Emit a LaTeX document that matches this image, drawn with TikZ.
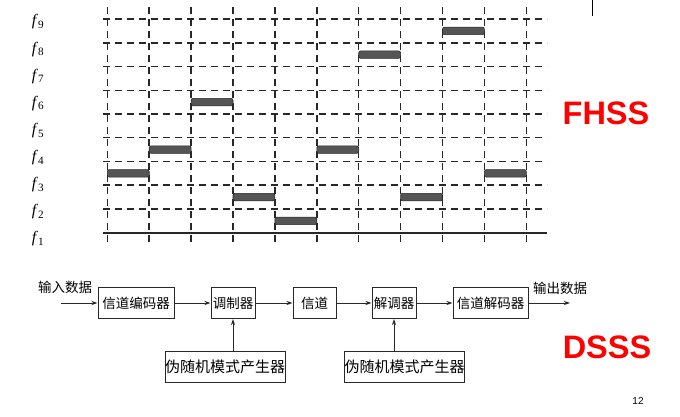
\documentclass[tikz,border=0pt]{standalone}
\usepackage{amsmath}
\usepackage{fontspec}
\newfontfamily\cjk{Noto Sans CJK SC}
\newfontfamily\headfont{Liberation Sans}
\newfontfamily\freqfont{Liberation Serif}
\usetikzlibrary{arrows.meta}

\definecolor{inkgray}{RGB}{40,40,40}
\definecolor{barfill}{RGB}{85,85,85}
\definecolor{titlered}{RGB}{255,0,0}

\begin{document}
\begin{tikzpicture}
        [x=1pt,y=-1pt,>={Stealth[length=6pt,width=4pt]},
        grid/.style={inkgray,line width=1.5pt,dash pattern=on 7pt off 5pt},
        hop/.style={fill=barfill,draw=inkgray,line width=.6pt,rounded corners=2pt},
        block/.style={draw=inkgray,line width=1pt,inner sep=0pt,minimum height=31pt,
            font=\cjk\fontsize{13.5}{14}\selectfont},
        pnbox/.style={block,font=\cjk\fontsize{15}{16}\selectfont},
        title/.style={text=titlered,font=\headfont\bfseries\fontsize{32.5}{34}\selectfont}]
        \useasboundingbox (0,0) rectangle (680,417);

        % frequency hopping grid
        \foreach \i in {0,...,10}
            \draw[grid] ({107.3+41.9*\i},7) -- ({107.3+41.9*\i},243);
        \foreach \j in {1,...,9}
            \draw[grid] (103,{232.7-23.74*\j}) -- (547,{232.7-23.74*\j});
        \draw[inkgray,line width=1.8pt] (103,232.7) -- (547,232.7);
        \foreach \s/\b in {1/3,2/4,3/6,4/2,5/1,6/4,7/8,8/2,9/9,10/3}
            \draw[hop] ({107.3+41.9*(\s-1)},{232.7-23.74*(\b-.5)-3.75})
                rectangle ({107.3+41.9*\s},{232.7-23.74*(\b-.5)+3.75});
        \foreach \k in {1,...,9}
            \node[font=\freqfont\fontsize{16}{16}\selectfont] (f\k) at (38,{22+27.125*(9-\k)})
                {\textit{f}\textsubscript{\k}};
        \draw[black,line width=.8pt] (592.7,0) -- (592.7,16);
        \node[title] (fhss) at (606,113) {FHSS};

        % direct sequence chain
        \node[block,minimum width=76pt] (enc) at (136,303) {信道编码器};
        \node[block,minimum width=44pt] (mod) at (233,303) {调制器};
        \node[block,minimum width=43pt] (chan) at (314.5,303) {信道};
        \node[block,minimum width=44pt] (demod) at (394,303) {解调器};
        \node[block,minimum width=75pt] (dec) at (490.5,303) {信道解码器};
        \node[pnbox,minimum width=112pt] (pna) at (225,366.5) {伪随机模式产生器};
        \node[pnbox,minimum width=113pt] (pnb) at (404.5,366.5) {伪随机模式产生器};
        \node[font=\cjk\fontsize{13.5}{14}\selectfont] (inlabel) at (65,287) {输入数据};
        \node[font=\cjk\fontsize{13.5}{14}\selectfont] (outlabel) at (560,288) {输出数据};
        \coordinate (in) at (61,303);
        \coordinate (out) at (570,303);

        \draw[->,inkgray,line width=1pt] (in) -- (enc);
        \draw[->,inkgray,line width=1pt] (enc) -- (mod);
        \draw[->,inkgray,line width=1pt] (mod) -- (chan);
        \draw[->,inkgray,line width=1pt] (chan) -- (demod);
        \draw[->,inkgray,line width=1pt] (demod) -- (dec);
        \draw[->,inkgray,line width=1pt] (dec) -- (out);
        \draw[->,inkgray,line width=1pt] (pna.north -| mod) -- (mod.south);
        \draw[->,inkgray,line width=1pt] (pnb.north -| demod) -- (demod.south);

        \node[title] (dsss) at (607,347) {DSSS};
        \node[font=\headfont\fontsize{10}{10}\selectfont] (page) at (638,401) {12};
    \end{tikzpicture}
\end{document}
